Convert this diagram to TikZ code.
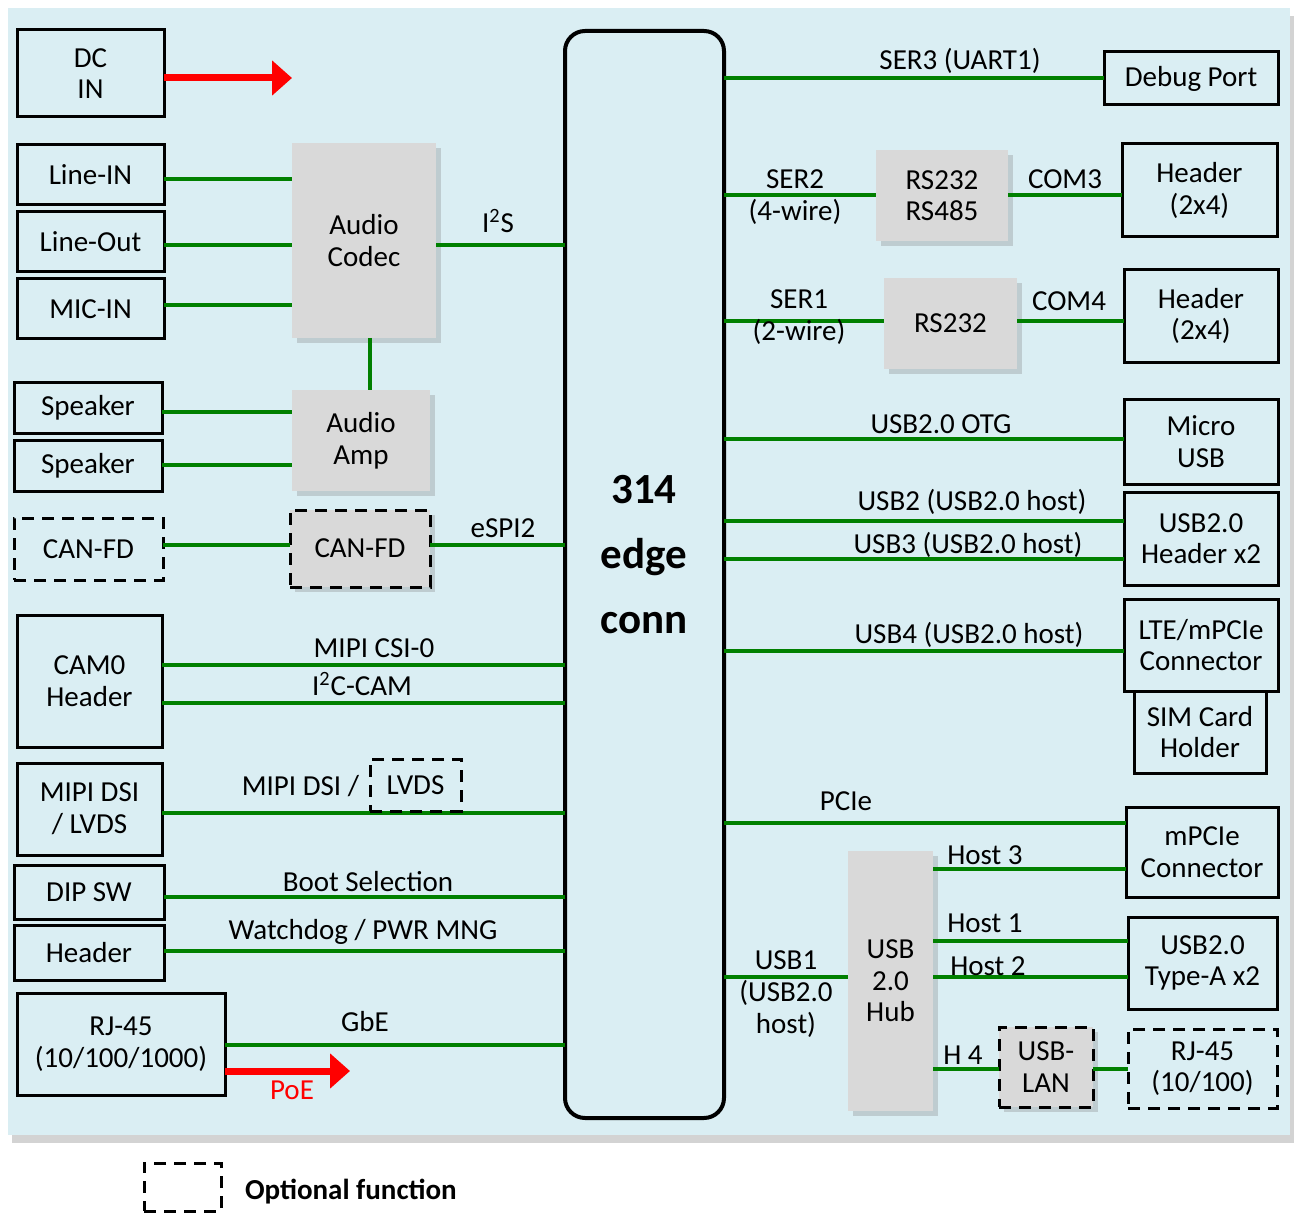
\documentclass[tikz,border=0pt]{standalone}
\usepackage{fontspec}
\setmainfont{Carlito}
\usetikzlibrary{shadows,arrows.meta}
\definecolor{bgblue}{HTML}{DAEEF3}
\definecolor{boxgray}{HTML}{D9D9D9}
\definecolor{lgreen}{HTML}{008000}
\tikzset{
  every node/.style={font=\fontsize{14.5}{15.8}\selectfont, inner sep=0pt, outer sep=0pt},
  corners/.style n args={4}{at={({(#1+#3)/2},{(#2+#4)/2})}, anchor=center,
     minimum width={(#3-#1)*0.5pt}, minimum height={(#4-#2)*0.5pt}},
  bx/.style={draw, line width=1.5pt, align=center},
  chip/.style={fill=boxgray, align=center, drop shadow={shadow xshift=2.5pt, shadow yshift=-2.5pt, opacity=0.3}},
  opt/.style={draw, line width=1.5pt, dash pattern=on 6pt off 4pt, align=center},
  wire/.style={draw=lgreen, line width=1.8pt},
  pwr/.style={draw=red, line width=3.5pt, -{Triangle[length=10pt,width=17pt]}},
  lbl/.style={align=center},
}
\begin{document}
\begin{tikzpicture}[x=0.5pt, y=-0.5pt]
\useasboundingbox (0,0) rectangle (1296,1214);
\path[fill=bgblue, drop shadow={shadow xshift=2pt, shadow yshift=-4pt, opacity=0.35}] (8,8) rectangle (1290,1135);

% edge connector
\node[draw, line width=2pt, rounded corners=10pt, corners={565}{31}{724}{1118}] (edge) {};
\node[font=\fontsize{21.5}{32.5}\selectfont\bfseries, align=center] (edgetxt) at (644,555) {314\\edge\\conn};

% left column
\node[bx, corners={17}{30}{164}{117}] (dcin) {DC\\IN};
\node[bx, corners={17}{145}{164}{205}] (linein) {Line-IN};
\node[bx, corners={17}{212}{164}{272}] (lineout) {Line-Out};
\node[bx, corners={17}{279}{164}{339}] (micin) {MIC-IN};
\node[chip, corners={292}{143}{436}{338}] (codec) {Audio\\Codec};
\node[bx, corners={14}{382}{162}{433}] (spk1) {Speaker};
\node[bx, corners={14}{440}{162}{491}] (spk2) {Speaker};
\node[chip, corners={292}{390}{430}{491}] (amp) {Audio\\Amp};
\node[opt, corners={14}{518}{163}{580}] (canl) {CAN-FD};
\node[chip, opt, corners={290}{510}{430}{587}] (canm) {CAN-FD};
\node[bx, corners={17}{615}{162}{747}] (cam) {CAM0\\Header};
\node[bx, corners={17}{763}{162}{855}] (dsi) {MIPI DSI\\/ LVDS};
\node[bx, corners={14}{865}{164}{919}] (dip) {DIP SW};
\node[bx, corners={14}{925}{164}{980}] (hdr) {Header};
\node[bx, corners={17}{993}{225}{1095}] (rj) {RJ-45\\(10/100/1000)};

% right column
\node[bx, corners={1104}{52}{1278}{105}] (debug) {Debug Port};
\node[chip, corners={876}{150}{1008}{241}] (rs485) {RS232\\RS485};
\node[bx, corners={1122}{144}{1277}{237}] (hdr3) {Header\\(2x4)};
\node[chip, corners={884}{278}{1017}{369}] (rs232) {RS232};
\node[bx, corners={1124}{270}{1278}{362}] (hdr4) {Header\\(2x4)};
\node[bx, corners={1124}{399}{1278}{484}] (micro) {Micro\\USB};
\node[bx, corners={1124}{492}{1278}{585}] (usbhdr) {USB2.0\\Header x2};
\node[bx, corners={1124}{599}{1278}{691}] (lte) {LTE/mPCIe\\Connector};
\node[bx, corners={1134}{691}{1266}{773}] (sim) {SIM Card\\Holder};
\node[bx, corners={1126}{807}{1278}{897}] (mpcie) {mPCIe\\Connector};
\node[chip, corners={848}{851}{933}{1111}] (hub) {USB\\2.0\\Hub};
\node[bx, corners={1128}{917}{1277}{1009}] (typea) {USB2.0\\Type-A x2};
\node[chip, opt, corners={999}{1027}{1093}{1107}] (usblan) {USB-\\LAN};
\node[opt, corners={1128}{1029}{1277}{1108}] (rj2) {RJ-45\\(10/100)};

% power arrows
\coordinate (dctip) at (292,78);
\draw[pwr] (dcin.east |- dctip) -- (dctip);
\coordinate (poetip) at (350,1071);
\draw[pwr] (rj.east |- poetip) -- (poetip);
\node[text=red] (poe) at (292,1090) {PoE};

% left wires
\draw[wire] (linein.east |- 0,179) -- (codec.west |- 0,179);
\draw[wire] (lineout.east |- 0,245) -- (codec.west |- 0,245);
\draw[wire] (micin.east |- 0,305) -- (codec.west |- 0,305);
\draw[wire] (codec.east |- 0,245) -- (edge.west |- 0,245);
\node[lbl] (li2s) at (498,221) {I\textsuperscript{2}S};
\draw[wire] (codec.south -| 370,0) -- (amp.north -| 370,0);
\draw[wire] (spk1.east |- 0,412) -- (amp.west |- 0,412);
\draw[wire] (spk2.east |- 0,465) -- (amp.west |- 0,465);
\draw[wire] (canl.east |- 0,545) -- (canm.west |- 0,545);
\draw[wire] (canm.east |- 0,545) -- (edge.west |- 0,545);
\node[lbl] (lespi) at (503,528) {eSPI2};
\draw[wire] (cam.east |- 0,665) -- (edge.west |- 0,665);
\node[lbl] (lcsi) at (374,648) {MIPI CSI-0};
\draw[wire] (cam.east |- 0,703) -- (edge.west |- 0,703);
\node[lbl] (li2c) at (362,684) {I\textsuperscript{2}C-CAM};
\draw[wire] (dsi.east |- 0,813) -- (edge.west |- 0,813);
\node[lbl, anchor=east] (ldsi) at (359,786) {MIPI DSI /};
\node[opt, corners={370}{759}{461}{811}] (lvds) {LVDS};
\draw[wire] (dip.east |- 0,897) -- (edge.west |- 0,897);
\node[lbl] (lboot) at (368,882) {Boot Selection};
\draw[wire] (hdr.east |- 0,951) -- (edge.west |- 0,951);
\node[lbl] (lwd) at (363,932) {Watchdog / PWR MNG};
\draw[wire] (rj.east |- 0,1045) -- (edge.west |- 0,1045);
\node[lbl] (lgbe) at (365,1022) {GbE};

% right wires
\draw[wire] (edge.east |- 0,78) -- (debug.west |- 0,78);
\node[lbl] (lser3) at (960,61) {SER3 (UART1)};
\draw[wire] (edge.east |- 0,195) -- (rs485.west |- 0,195);
\node[lbl] (lser2) at (795,197) {SER2\\(4-wire)};
\draw[wire] (rs485.east |- 0,195) -- (hdr3.west |- 0,195);
\node[lbl] (lcom3) at (1065,179) {COM3};
\draw[wire] (edge.east |- 0,321) -- (rs232.west |- 0,321);
\node[lbl] (lser1) at (799,317) {SER1\\(2-wire)};
\draw[wire] (rs232.east |- 0,321) -- (hdr4.west |- 0,321);
\node[lbl] (lcom4) at (1069,301) {COM4};
\draw[wire] (edge.east |- 0,439) -- (micro.west |- 0,439);
\node[lbl] (lotg) at (941,424) {USB2.0 OTG};
\draw[wire] (edge.east |- 0,521) -- (usbhdr.west |- 0,521);
\node[lbl] (lusb2) at (972,502) {USB2 (USB2.0 host)};
\draw[wire] (edge.east |- 0,559) -- (usbhdr.west |- 0,559);
\node[lbl] (lusb3) at (968,545) {USB3 (USB2.0 host)};
\draw[wire] (edge.east |- 0,651) -- (lte.west |- 0,651);
\node[lbl] (lusb4) at (969,635) {USB4 (USB2.0 host)};
\draw[wire] (edge.east |- 0,823) -- (mpcie.west |- 0,823);
\node[lbl] (lpcie) at (846,801) {PCIe};
\draw[wire] (hub.east |- 0,869) -- (mpcie.west |- 0,869);
\node[lbl] (lh3) at (985,855) {Host 3};
\draw[wire] (edge.east |- 0,977) -- (hub.west |- 0,977);
\node[lbl] (lusb1) at (786,994) {USB1\\(USB2.0\\host)};
\draw[wire] (hub.east |- 0,941) -- (typea.west |- 0,941);
\node[lbl] (lh1) at (985,923) {Host 1};
\draw[wire] (hub.east |- 0,977) -- (typea.west |- 0,977);
\node[lbl] (lh2) at (988,966) {Host 2};
\draw[wire] (hub.east |- 0,1069) -- (usblan.west |- 0,1069);
\node[lbl] (lh4) at (963,1055) {H 4};
\draw[wire] (usblan.east |- 0,1069) -- (rj2.west |- 0,1069);

% legend
\node[opt, corners={144}{1163}{221}{1211}] (legbox) {};
\node[anchor=west, font=\fontsize{14.5}{15.8}\selectfont\bfseries] (legtxt) at (245,1192) {Optional function};
\end{tikzpicture}
\end{document}
